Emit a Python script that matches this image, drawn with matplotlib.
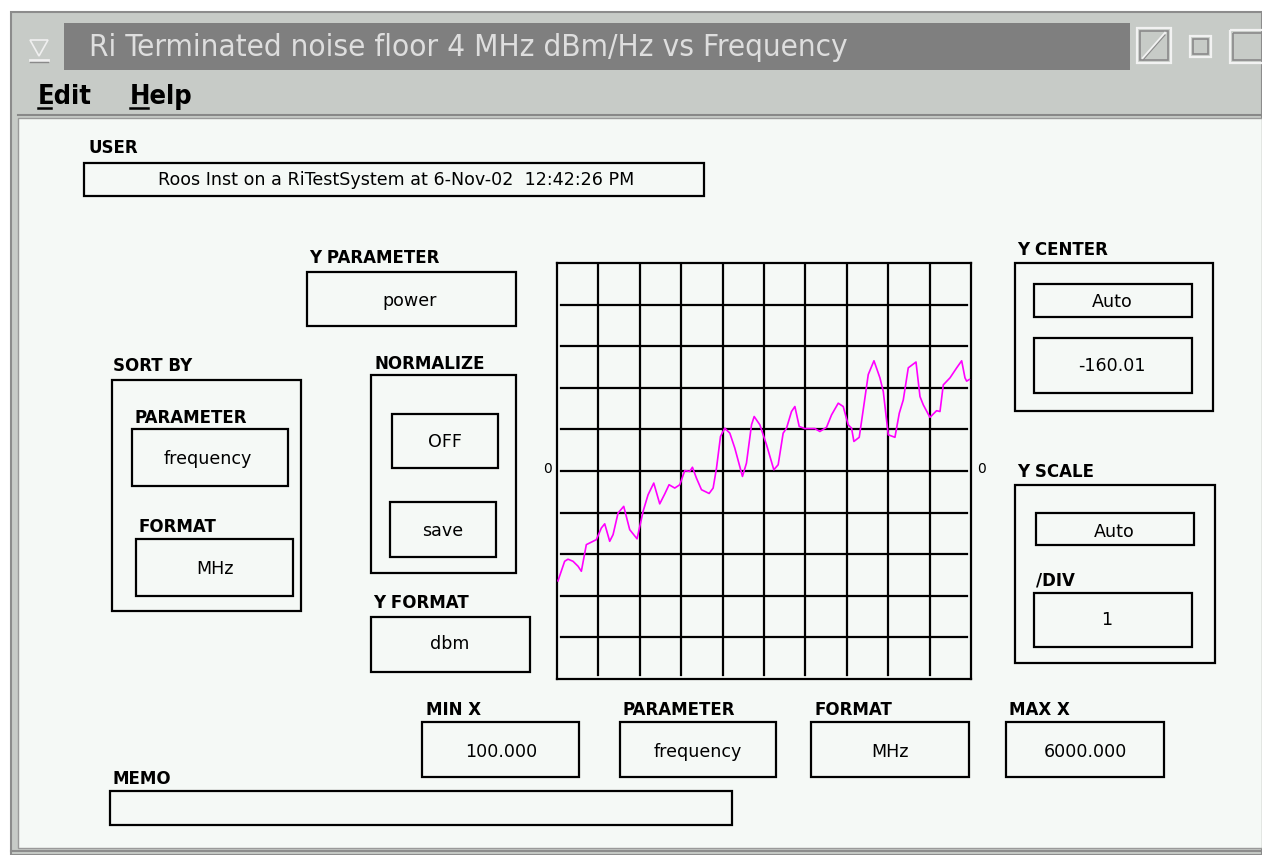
import os
import matplotlib
matplotlib.use("Agg")
import matplotlib.pyplot as plt
from matplotlib import font_manager
from matplotlib.font_manager import FontProperties
from matplotlib.patches import Rectangle, Polygon

# Noise floor trace: frequency (MHz) and level (dBm/Hz)
freq_mhz = [114, 209, 257, 328, 400, 447, 518, 566, 661, 732, 780, 851, 899, 970,
            1051, 1136, 1241, 1327, 1398, 1479, 1564, 1636, 1697, 1778, 1850, 1921,
            1992, 2030, 2087, 2159, 2268, 2325, 2373, 2430, 2491, 2563, 2634, 2743,
            2800, 2872, 2910, 2991, 3086, 3190, 3252, 3323, 3371, 3442, 3490, 3552,
            3632, 3775, 3846, 3941, 4013, 4108, 4179, 4250, 4298, 4331, 4407, 4464,
            4536, 4617, 4702, 4750, 4821, 4916, 4978, 5035, 5106, 5216, 5273, 5320,
            5415, 5510, 5558, 5605, 5701, 5796, 5867, 5914, 5938, 5976]
level_dbm = [-162.65, -162.18, -162.13, -162.18, -162.30, -162.42, -161.78, -161.74,
             -161.66, -161.38, -161.28, -161.70, -161.54, -161.02, -160.86, -161.42,
             -161.64, -160.98, -160.58, -160.30, -160.80, -160.56, -160.34, -160.42,
             -160.34, -160.00, -160.02, -159.92, -160.18, -160.46, -160.55, -160.42,
             -159.94, -159.18, -158.98, -159.10, -159.46, -160.14, -159.82, -158.90,
             -158.70, -158.90, -159.38, -159.98, -159.86, -159.10, -158.98, -158.58,
             -158.46, -158.94, -158.99, -158.99, -159.06, -158.96, -158.66, -158.38,
             -158.46, -158.90, -158.98, -159.30, -159.20, -158.54, -157.69, -157.36,
             -157.77, -158.10, -159.14, -159.20, -158.62, -158.30, -157.53, -157.39,
             -158.22, -158.42, -158.72, -158.56, -158.58, -157.94, -157.77, -157.53,
             -157.36, -157.77, -157.85, -157.81]

y_center = -160.01
y_per_div = 1
x_min, x_max = 100.0, 6000.0
n_div = 10

title = "Ri Terminated noise floor 4 MHz dBm/Hz vs Frequency"
user_text = "Roos Inst on a RiTestSystem at 6-Nov-02  12:42:26 PM"
menu_items = ["Edit", "Help"]

W, H = 1262, 855
UI_FONT = "DejaVu Sans"
WIN_GREY = "#c7cbc7"
PANEL = "#f5f9f6"


def narrow_bold():
    # pick a condensed bold face for the menu bar if one is installed
    wanted = ["liberationsansnarrow-bold.ttf", "dejavusanscondensed-bold.ttf",
              "notosans-condensedbold.ttf", "opensans-condensedbold.ttf"]
    files = {os.path.basename(f.fname).lower(): f.fname
             for f in font_manager.fontManager.ttflist}
    for w in wanted:
        if w in files:
            return FontProperties(fname=files[w]), True
    return FontProperties(family=UI_FONT, weight="bold"), False


menu_fp, is_narrow = narrow_bold()

fig = plt.figure(figsize=(W / 100, H / 100), dpi=100)
fig.patch.set_facecolor("white")
ax = fig.add_axes([0, 0, 1, 1])
ax.set_xlim(0, W)
ax.set_ylim(H, 0)
ax.axis("off")


def box(x0, y0, x1, y1, lw=1.6):
    ax.add_patch(Rectangle((x0, y0), x1 - x0, y1 - y0, fill=False,
                           edgecolor="black", linewidth=lw, zorder=3))


def label(x, y, s, size=12):
    ax.text(x, y, s, fontsize=size, fontweight="bold", family=UI_FONT,
            ha="left", va="center", zorder=4)


def value(x, y, s, size=12.6):
    ax.text(x, y, s, fontsize=size, family=UI_FONT, ha="center", va="center", zorder=4)


# window frame, title bar and menu strip
ax.add_patch(Rectangle((11, 12), W - 11, H - 12, facecolor=WIN_GREY,
                       edgecolor="#8c8c8c", linewidth=1.5))
ax.add_patch(Rectangle((64, 23), 1130 - 64, 47, facecolor="#7f7f7f", edgecolor="none"))
ax.text(89, 56, title, fontsize=22.6, family=UI_FONT, fontstretch="condensed",
        color="#dedede", ha="left", va="baseline")

# window-menu glyph
ax.add_patch(Polygon([(30, 40), (48, 40), (39, 56)], closed=True, fill=False,
                     edgecolor="#f0f0f0", linewidth=1.2))
ax.plot([30, 48], [60, 60], color="#f0f0f0", lw=2)
ax.plot([30, 48], [62, 62], color="#8a8a8a", lw=1)

# title-bar buttons
for (x0, y0, x1, y1) in [(1137, 28, 1171, 63), (1190, 36, 1211, 57), (1230, 30, 1270, 63)]:
    ax.add_patch(Rectangle((x0, y0), x1 - x0, y1 - y0, fill=False,
                           edgecolor="#f2f2f2", linewidth=1.6))
    ax.add_patch(Rectangle((x0 + 3, y0 + 3), x1 - x0 - 6, y1 - y0 - 6, fill=False,
                           edgecolor="#8a8a8a", linewidth=1.2))
ax.plot([1143, 1165], [58, 33], color="#f2f2f2", lw=1.6)
ax.plot([1143, 1165], [60, 35], color="#8a8a8a", lw=0.8)

# menu bar
menu_size = 19.5 if is_narrow else 16
for x, s, ul in [(38, menu_items[0], 13), (130, menu_items[1], 18)]:
    ax.text(x, 104, s, fontproperties=menu_fp, fontsize=menu_size,
            color="black", ha="left", va="baseline")
    ax.plot([x, x + ul], [108, 108], color="black", lw=1.8)

ax.plot([18, W], [115, 115], color="#888888", lw=1.5)
ax.add_patch(Rectangle((18, 118), W - 18, 848 - 118, facecolor=PANEL,
                       edgecolor="#9a9a9a", linewidth=1.0))
ax.plot([11, W], [851, 851], color="#8c8c8c", lw=1.5)

# user line
label(88, 148, "USER")
box(84, 163, 704, 196)
value(396, 180, user_text)

# y parameter
label(309, 258, "Y PARAMETER")
box(307, 272, 516, 326)
value(410, 301, "power")

# sort by
label(113, 366, "SORT BY")
box(112, 380, 301, 611)
label(135, 418, "PARAMETER")
box(132, 429, 288, 486)
value(208, 459, "frequency")
label(139, 527, "FORMAT")
box(136, 539, 293, 596)
value(215, 569, "MHz")

# normalize
label(374, 364, "NORMALIZE")
box(371, 375, 516, 573)
box(392, 414, 498, 468)
value(445, 442, "OFF")
box(390, 502, 496, 557)
value(443, 531, "save")

label(373, 603, "Y FORMAT")
box(371, 617, 530, 672)
value(450, 644, "dbm")

# y center / y scale
label(1017, 250, "Y CENTER")
box(1015, 263, 1213, 411)
box(1034, 284, 1192, 317)
value(1112, 302, "Auto")
box(1034, 338, 1192, 393)
value(1112, 366, f"{y_center:.2f}")

label(1017, 472, "Y SCALE")
box(1015, 485, 1215, 663)
box(1036, 513, 1194, 545)
value(1114, 532, "Auto")
label(1036, 580, "/DIV")
box(1034, 593, 1192, 647)
value(1107, 620, f"{y_per_div}")

# x controls
label(426, 710, "MIN X")
box(422, 722, 579, 777)
value(501, 752, f"{x_min:.3f}")
label(622, 710, "PARAMETER")
box(620, 722, 776, 777)
value(698, 752, "frequency")
label(815, 710, "FORMAT")
box(811, 722, 969, 777)
value(890, 752, "MHz")
label(1009, 710, "MAX X")
box(1006, 722, 1164, 777)
value(1085, 752, f"{x_max:.3f}")

label(112, 779, "MEMO")
box(110, 791, 732, 825)

# center-line markers
ax.text(548, 469, "0", fontsize=10, family=UI_FONT, ha="center", va="center")
ax.text(982, 469, "0", fontsize=10, family=UI_FONT, ha="center", va="center")

# graticule with the trace
px0, py0, pw, ph = 557, 263, 414, 416
gax = fig.add_axes([px0 / W, 1 - (py0 + ph) / H, pw / W, ph / H])
gax.set_facecolor(PANEL)
y_lo = y_center - n_div / 2 * y_per_div
y_hi = y_center + n_div / 2 * y_per_div
gax.set_xlim(x_min, x_max)
gax.set_ylim(y_lo, y_hi)
gax.set_xticks([])
gax.set_yticks([])
for sp in gax.spines.values():
    sp.set_linewidth(1.6)
    sp.set_color("black")
step_x = (x_max - x_min) / n_div
for i in range(1, n_div):
    gax.axvline(x_min + i * step_x, ymin=0.009, ymax=1, color="black", lw=1.6)
    gax.axhline(y_lo + i * y_per_div, xmin=0.01, xmax=0.99, color="black", lw=1.6)
gax.plot(freq_mhz, level_dbm, color="#ff00ff", lw=1.2, zorder=5)

fig.savefig("out.png", dpi=100, facecolor=fig.get_facecolor())
